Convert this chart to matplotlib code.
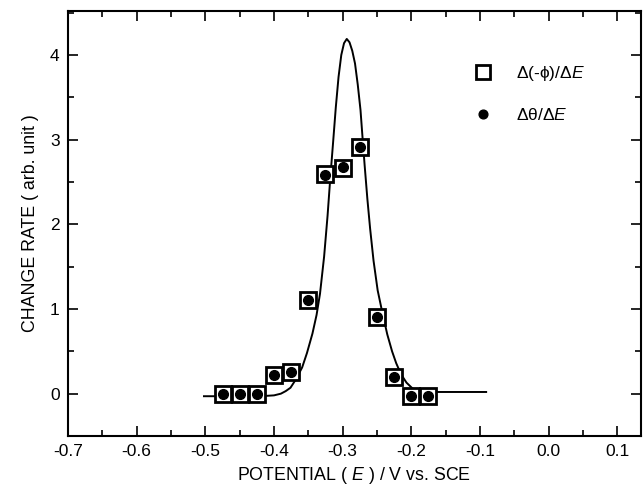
import matplotlib
matplotlib.use("Agg")
import matplotlib.pyplot as plt
from matplotlib.ticker import MultipleLocator

plt.rcParams['font.family'] = ['Liberation Sans', 'DejaVu Sans']
plt.rcParams['mathtext.fontset'] = 'custom'
plt.rcParams['mathtext.rm'] = 'Liberation Sans'
plt.rcParams['mathtext.it'] = 'Liberation Sans:italic'

# Measured points
potential = [-0.475, -0.45, -0.425, -0.40, -0.375, -0.35, -0.325, -0.30, -0.275, -0.25, -0.225, -0.20, -0.175]
phase_rate = [0.0, 0.0, 0.0, 0.22, 0.26, 1.11, 2.60, 2.67, 2.91, 0.91, 0.20, -0.03, -0.03]
coverage_rate = [0.0, 0.0, 0.0, 0.22, 0.26, 1.11, 2.58, 2.68, 2.91, 0.91, 0.20, -0.03, -0.03]

# Fitted curve
curve_x = [-0.502, -0.45, -0.42, -0.40, -0.39, -0.383, -0.376, -0.368, -0.359, -0.352, -0.344,
           -0.338, -0.333, -0.327, -0.322, -0.318, -0.314, -0.310, -0.306, -0.302, -0.298,
           -0.294, -0.290, -0.286, -0.282, -0.278, -0.274, -0.271, -0.268, -0.264, -0.260,
           -0.255, -0.249, -0.242, -0.235, -0.228, -0.222, -0.215, -0.207, -0.198, -0.190,
           -0.183, -0.15, -0.091]
curve_y = [-0.03, -0.03, -0.03, -0.02, 0.0, 0.03, 0.07, 0.17, 0.31, 0.48, 0.71,
           0.93, 1.18, 1.62, 2.10, 2.55, 2.96, 3.38, 3.74, 4.00, 4.14,
           4.19, 4.15, 4.05, 3.90, 3.65, 3.35, 3.02, 2.70, 2.30, 1.95,
           1.57, 1.22, 0.95, 0.70, 0.50, 0.36, 0.23, 0.13, 0.06, 0.03,
           0.02, 0.02, 0.02]

fig = plt.figure(figsize=(6.43, 4.93), dpi=100)
ax = fig.add_axes([0.1058, 0.1156, 0.8905, 0.8621])

ax.plot(curve_x, curve_y, color='black', lw=1.4, zorder=2)
ax.plot(potential, phase_rate, linestyle='none', marker='s', ms=11, mfc='white',
        mec='black', mew=2.0, zorder=3, label=r'Δ(-ϕ)/Δ$\mathit{E}$')
ax.plot(potential, coverage_rate, linestyle='none', marker='o', ms=7, mfc='black',
        mec='black', zorder=4, label=r'Δθ/Δ$\mathit{E}$')

ax.set_xlim(-0.7, 0.134)
ax.set_ylim(-0.5, 4.52)
ax.xaxis.set_minor_locator(MultipleLocator(0.05))
ax.yaxis.set_minor_locator(MultipleLocator(0.5))
ax.set_xticks([-0.7, -0.6, -0.5, -0.4, -0.3, -0.2, -0.1, 0.0, 0.1])
ax.set_xticklabels(['-0.7', '-0.6', '-0.5', '-0.4', '-0.3', '-0.2', '-0.1', '0.0', '0.1'])
ax.set_yticks([0, 1, 2, 3, 4])
ax.tick_params(which='both', direction='in', top=True, right=True, labelsize=12.5, width=1.2)
ax.tick_params(which='major', length=7, pad=6)
ax.tick_params(which='minor', length=4)
for s in ax.spines.values():
    s.set_linewidth(1.5)

ax.set_xlabel(r'POTENTIAL ( $\mathit{E}$ ) / V vs. SCE', fontsize=12.8, labelpad=4)
ax.set_ylabel('CHANGE RATE ( arb. unit )', fontsize=12.8, labelpad=8)

leg = ax.legend(loc='upper left', bbox_to_anchor=(0.667, 0.912), frameon=False,
                fontsize=12.5, handletextpad=0.9, labelspacing=1.4, markerscale=0.9)

fig.savefig('out.png', dpi=100)
